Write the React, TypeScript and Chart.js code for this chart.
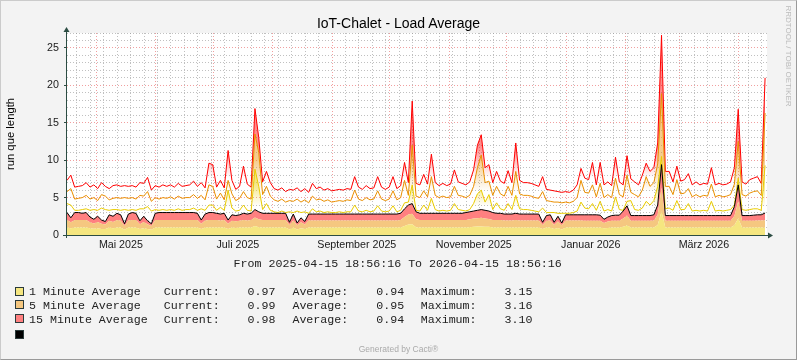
import React, { useEffect, useRef } from "react";
import { Chart, registerables } from "chart.js";

Chart.register(...registerables);

// ---------- time axis (days since range start) ----------
const RANGE_START = "2025-04-15T18:56:16";
const RANGE_TEXT = "From 2025-04-15 18:56:16 To 2026-04-15 18:56:16";
const TOTAL_DAYS = 365;
const STEP_DAYS = 2;

const gridMonthStarts = [
  "2025-05-01", "2025-06-01", "2025-07-01", "2025-08-01", "2025-09-01", "2025-10-01",
  "2025-11-01", "2025-12-01", "2026-01-01", "2026-02-01", "2026-03-01", "2026-04-01",
];
const labelMonthStarts = ["2025-05-01", "2025-07-01", "2025-09-01", "2025-11-01", "2026-01-01", "2026-03-01"];
const xTickLabels = ["Mai 2025", "Juli 2025", "September 2025", "November 2025", "Januar 2026", "März 2026"];
const firstWeekStart = "2025-04-21";

const yTickLabels = [0, 5, 10, 15, 20, 25];
const Y_MAX = 27;

// ---------- series (one value every 2 days) ----------
// 1 minute average (area)
const avg1 = [
  1.0, 0.9, 1.0, 1.0, 1.0, 1.0, 0.9, 0.85, 0.9, 0.8,
  0.8, 1.0, 0.9, 1.0, 1.0, 0.7, 1.0, 1.0, 1.0, 0.8,
  0.9, 0.8, 0.7, 1.0, 1.0, 1.0, 1.0, 1.0, 1.0, 1.0,
  1.0, 1.0, 1.0, 1.0, 1.0, 0.8, 1.0, 1.0, 1.0, 1.0,
  1.0, 1.0, 0.8, 1.0, 0.95, 1.0, 1.0, 1.0, 1.0, 1.2,
  1.05, 1.0, 1.0, 1.0, 1.0, 1.0, 1.0, 1.0, 0.75, 1.0,
  0.75, 0.9, 0.8, 1.0, 1.0, 1.0, 1.0, 1.0, 1.0, 1.0,
  1.0, 1.0, 1.0, 1.0, 1.0, 1.0, 1.0, 1.0, 1.0, 1.0,
  1.0, 1.0, 1.0, 1.0, 1.0, 1.0, 1.0, 1.0, 1.2, 1.4,
  1.45, 1.05, 1.0, 1.0, 1.0, 1.0, 1.0, 1.0, 1.0, 1.0,
  1.0, 1.0, 1.0, 1.0, 1.0, 1.05, 1.1, 1.15, 1.15, 1.1,
  1.1, 1.0, 1.0, 1.0, 1.0, 1.0, 1.0, 1.0, 1.0, 1.0,
  1.0, 1.0, 1.0, 1.0, 0.8, 1.0, 1.0, 0.8, 0.95, 0.75,
  1.0, 1.0, 1.0, 1.0, 1.0, 1.0, 1.0, 1.0, 1.0, 1.0,
  0.9, 0.95, 1.0, 1.0, 1.0, 1.1, 1.3, 1.0, 1.0, 1.0,
  1.0, 1.0, 1.0, 1.0, 1.35, 3.15, 1.0, 1.0, 1.0, 1.0,
  1.0, 1.0, 1.0, 1.0, 1.0, 1.0, 1.0, 1.0, 1.0, 1.0,
  1.0, 1.0, 1.0, 1.0, 1.3, 2.25, 1.0, 1.0, 1.0, 1.0,
  1.0, 1.0, 0.97,
];
// 5 minute average (area, stacked)
const avg5 = [
  1.0, 0.8, 1.0, 1.0, 1.0, 1.0, 0.8, 0.7, 0.85, 0.7,
  0.6, 0.9, 0.85, 1.0, 0.9, 0.5, 0.95, 1.0, 1.0, 0.65,
  0.85, 0.65, 0.5, 1.0, 1.0, 1.0, 1.0, 1.0, 1.0, 1.0,
  1.0, 1.0, 1.0, 1.0, 1.0, 0.7, 0.95, 1.0, 1.0, 1.0,
  0.95, 1.0, 0.7, 0.9, 0.9, 0.9, 1.0, 0.95, 1.0, 1.15,
  1.05, 1.0, 1.0, 1.0, 1.0, 1.0, 1.0, 1.0, 0.6, 0.95,
  0.55, 0.8, 0.6, 0.95, 0.95, 0.95, 0.95, 0.95, 0.95, 0.95,
  0.95, 0.95, 0.95, 0.95, 0.95, 0.95, 0.95, 0.95, 0.95, 0.95,
  0.95, 0.95, 0.95, 0.95, 0.95, 0.95, 0.95, 1.0, 1.2, 1.35,
  1.4, 1.05, 1.0, 1.0, 1.0, 1.0, 1.0, 1.0, 1.0, 1.0,
  1.0, 1.0, 1.0, 1.0, 1.0, 1.05, 1.1, 1.1, 1.15, 1.1,
  1.05, 1.0, 1.0, 1.0, 0.95, 0.95, 0.95, 1.0, 0.95, 0.95,
  0.95, 0.95, 0.95, 0.95, 0.55, 0.9, 0.95, 0.55, 0.85, 0.55,
  0.95, 0.95, 0.95, 0.95, 0.95, 0.9, 0.9, 0.9, 0.9, 0.9,
  0.7, 0.85, 0.9, 0.9, 0.9, 1.1, 1.3, 0.9, 0.9, 0.9,
  0.9, 0.9, 0.9, 0.95, 1.35, 3.16, 0.9, 0.9, 0.9, 0.9,
  0.9, 0.9, 0.9, 0.9, 0.9, 0.9, 0.9, 0.9, 0.9, 0.9,
  0.9, 0.9, 0.9, 0.9, 1.25, 2.25, 0.9, 0.9, 0.9, 0.9,
  0.95, 0.95, 0.99,
];
// 15 minute average (area, stacked)
const avg15 = [
  1.0, 0.6, 1.0, 1.0, 0.9, 1.0, 0.7, 0.55, 0.75, 0.5,
  0.4, 0.8, 0.75, 0.9, 0.8, 0.3, 0.85, 1.0, 0.9, 0.45,
  0.75, 0.45, 0.3, 0.9, 1.0, 1.0, 1.0, 1.0, 1.0, 1.0,
  1.0, 1.0, 1.0, 1.0, 0.9, 0.5, 0.85, 1.0, 1.0, 0.9,
  0.85, 0.9, 0.5, 0.8, 0.75, 0.8, 0.9, 0.85, 0.9, 1.05,
  1.0, 0.9, 0.9, 0.9, 0.9, 0.9, 0.9, 0.9, 0.35, 0.85,
  0.3, 0.6, 0.4, 0.85, 0.85, 0.85, 0.85, 0.85, 0.85, 0.85,
  0.85, 0.85, 0.85, 0.85, 0.85, 0.85, 0.85, 0.85, 0.85, 0.85,
  0.85, 0.85, 0.85, 0.85, 0.85, 0.85, 0.85, 0.9, 1.1, 1.25,
  1.35, 1.0, 0.9, 0.9, 0.9, 0.9, 0.9, 0.9, 0.9, 0.9,
  0.9, 0.9, 0.9, 0.9, 1.0, 1.0, 1.0, 1.05, 1.1, 1.1,
  1.05, 1.0, 0.9, 0.9, 0.85, 0.85, 0.85, 0.9, 0.85, 0.85,
  0.85, 0.85, 0.85, 0.85, 0.35, 0.7, 0.75, 0.35, 0.7, 0.3,
  0.75, 0.75, 0.75, 0.75, 0.75, 0.8, 0.8, 0.8, 0.8, 0.75,
  0.5, 0.6, 0.7, 0.75, 0.75, 1.0, 1.3, 0.7, 0.7, 0.7,
  0.7, 0.7, 0.7, 0.75, 1.3, 3.10, 0.7, 0.7, 0.7, 0.7,
  0.7, 0.7, 0.7, 0.7, 0.7, 0.7, 0.7, 0.7, 0.7, 0.7,
  0.7, 0.7, 0.7, 0.7, 1.25, 2.2, 0.7, 0.7, 0.7, 0.75,
  0.75, 0.75, 0.98,
];
// peak lines (as drawn, stacked maxima)
const max1Line = [
  4.2, 4.0, 3.3, 3.3, 3.4, 3.5, 3.3, 3.4, 3.3, 3.6,
  3.4, 3.3, 3.4, 3.4, 3.3, 3.4, 3.3, 3.4, 3.3, 3.5,
  3.5, 3.8, 3.2, 3.4, 3.3, 3.4, 3.3, 3.4, 3.3, 3.5,
  3.3, 3.4, 3.4, 3.6, 3.3, 3.5, 3.3, 4.0, 4.0, 3.3,
  3.7, 3.3, 6.0, 3.6, 3.2, 3.3, 4.0, 3.3, 3.2, 8.8,
  6.5, 3.4, 4.2, 3.3, 3.1, 3.0, 3.2, 3.0, 3.1, 3.0,
  3.2, 3.0, 3.1, 2.9, 3.5, 3.1, 3.2, 3.0, 3.1, 3.0,
  3.0, 3.1, 3.0, 3.1, 3.1, 4.0, 3.2, 3.1, 3.3, 3.1,
  3.2, 3.9, 3.2, 3.1, 3.2, 3.9, 3.1, 3.3, 4.3, 4.4,
  6.7, 3.3, 3.2, 4.0, 3.3, 4.9, 3.4, 3.2, 3.3, 3.2,
  3.3, 4.2, 3.4, 3.3, 3.2, 3.4, 4.2, 5.5, 6.0, 4.4,
  5.4, 3.4, 4.3, 3.5, 3.3, 4.2, 3.4, 5.3, 3.5, 3.4,
  3.4, 3.3, 3.2, 3.1, 3.6, 3.0, 3.0, 3.0, 2.9, 2.9,
  2.9, 2.9, 3.0, 3.2, 4.4, 3.6, 3.5, 4.2, 3.3, 4.5,
  3.2, 3.4, 3.2, 5.1, 3.4, 3.3, 4.5, 4.6, 3.4, 3.3,
  3.6, 4.5, 4.0, 4.6, 6.5, 10.5, 3.5, 3.6, 3.3, 4.6,
  3.4, 3.4, 4.2, 3.2, 3.3, 3.2, 3.3, 3.2, 4.5, 3.2,
  3.3, 3.2, 3.3, 3.4, 4.0, 7.6, 3.4, 3.3, 3.4, 3.5,
  3.5, 3.3, 9.3,
];
const max5Line = [
  5.8, 6.2, 4.8, 4.9, 5.0, 5.3, 4.8, 5.0, 4.6, 5.4,
  5.2, 4.7, 4.9, 5.0, 4.9, 5.0, 4.9, 5.0, 4.8, 5.3,
  5.2, 5.8, 4.5, 5.0, 4.8, 5.0, 4.9, 5.1, 4.8, 5.2,
  4.9, 5.0, 5.0, 5.4, 4.9, 5.3, 4.7, 6.7, 6.5, 4.8,
  5.6, 4.7, 7.3, 5.5, 4.6, 4.9, 5.8, 5.0, 4.8, 13.5,
  11.0, 5.4, 6.5, 5.2, 4.7, 4.5, 4.8, 4.4, 4.6, 4.5,
  4.8, 4.4, 4.7, 4.3, 5.2, 4.7, 4.8, 4.5, 4.7, 4.4,
  4.5, 4.6, 4.5, 4.7, 4.6, 6.0, 4.8, 4.6, 5.0, 4.7,
  4.8, 5.9, 4.8, 4.6, 4.8, 5.9, 4.7, 5.0, 7.3, 5.3,
  12.0, 5.2, 5.0, 5.9, 5.1, 7.8, 5.3, 5.0, 5.2, 5.0,
  5.1, 6.5, 5.3, 5.2, 5.0, 5.3, 6.5, 9.0, 10.7, 7.0,
  7.2, 5.3, 6.5, 5.5, 5.2, 6.5, 5.3, 8.5, 5.5, 5.3,
  5.3, 5.2, 5.0, 4.9, 5.8, 4.6, 4.5, 4.4, 4.4, 4.3,
  4.4, 4.3, 4.5, 5.0, 7.3, 5.7, 5.6, 6.7, 5.1, 6.9,
  5.0, 5.4, 5.0, 7.6, 5.4, 5.1, 8.0, 5.7, 5.4, 5.1,
  6.0, 7.8, 6.5, 7.0, 9.5, 18.9, 6.5, 6.5, 5.4, 7.4,
  5.5, 5.6, 6.2, 5.1, 5.4, 5.1, 5.3, 5.2, 6.8, 5.1,
  5.3, 5.1, 5.2, 5.4, 6.8, 12.5, 5.4, 5.2, 5.6, 5.8,
  5.9, 5.3, 16.3,
];
const max15Line = [
  7.3, 8.0, 6.4, 6.5, 6.6, 7.0, 6.4, 6.7, 6.2, 7.0,
  6.5, 6.2, 6.6, 6.7, 6.5, 6.6, 6.5, 6.6, 6.4, 7.0,
  6.9, 7.7, 6.0, 6.6, 6.4, 6.7, 6.5, 6.7, 6.4, 6.9,
  6.5, 6.6, 6.7, 7.2, 6.5, 7.0, 6.3, 9.6, 9.4, 6.4,
  7.3, 6.3, 11.3, 7.3, 6.1, 6.5, 9.2, 6.8, 6.4, 16.9,
  13.0, 7.1, 8.5, 7.0, 6.2, 6.0, 6.3, 5.8, 6.1, 6.0,
  6.3, 5.8, 6.2, 5.7, 6.9, 6.2, 6.4, 6.0, 6.2, 5.9,
  6.0, 6.1, 6.0, 6.2, 6.1, 7.8, 6.4, 6.1, 6.6, 6.2,
  6.3, 7.8, 6.4, 6.1, 6.4, 7.8, 6.2, 6.6, 9.7, 7.0,
  17.9, 6.9, 6.7, 8.1, 6.8, 10.8, 7.0, 6.6, 6.9, 6.6,
  6.8, 8.7, 7.1, 6.9, 6.7, 7.1, 8.7, 12.0, 13.4, 9.0,
  9.4, 7.0, 8.5, 7.2, 6.9, 8.6, 7.0, 12.3, 7.3, 7.0,
  7.0, 6.9, 6.7, 6.5, 7.8, 6.1, 6.0, 5.9, 5.8, 5.7,
  5.8, 5.7, 6.0, 6.7, 8.9, 7.6, 7.4, 9.7, 6.7, 9.7,
  6.7, 7.1, 6.6, 10.4, 7.1, 6.7, 10.6, 7.5, 7.1, 6.7,
  8.0, 9.6, 8.5, 9.0, 12.3, 26.7, 8.5, 8.5, 7.1, 9.2,
  7.2, 7.4, 8.2, 6.7, 7.1, 6.7, 6.9, 6.8, 9.0, 6.7,
  6.9, 6.7, 6.8, 7.1, 9.0, 16.8, 7.1, 6.8, 7.4, 7.6,
  7.8, 6.9, 21.0,
];

// legend texts
const legendNames = ["1 Minute Average", "5 Minute Average", "15 Minute Average"];
const legendCurrent = ["0.97", "0.99", "0.98"];
const legendAverage = ["0.94", "0.95", "0.94"];
const legendMaximum = ["3.15", "3.16", "3.10"];

// ---------- styles ----------
const AREA1 = "rgb(245,230,128)";
const AREA5 = "rgb(245,199,128)";
const AREA15 = "rgb(255,128,128)";
const LINE1 = "#EACC00";
const LINE5 = "#EA8F00";
const LINE15 = "#FF0000";
const AXIS = "#2C4D43";
const GRID_MINOR = "rgba(150,150,150,0.6)";
const GRID_MAJOR = "rgba(230,80,80,0.55)";
const SANS = "'Liberation Sans', Arial, sans-serif";
const MONO = "'Liberation Mono', 'Courier New', monospace";

const dayOf = (d: string) =>
  (Date.parse(d + "T00:00:00") - Date.parse(RANGE_START)) / 86400000;

function spikeFill(rgb: string, lo: number, hi: number, alpha: number) {
  return (ctx: any) => {
    const chart = ctx.chart;
    const area = chart.chartArea;
    if (!area) return "rgba(0,0,0,0)";
    const y = chart.scales.y;
    const g = chart.ctx.createLinearGradient(0, y.getPixelForValue(lo), 0, y.getPixelForValue(hi));
    g.addColorStop(0, `rgba(${rgb},0)`);
    g.addColorStop(1, `rgba(${rgb},${alpha})`);
    return g;
  };
}

const frame = {
  id: "rrdFrame",
  beforeDraw(chart: any) {
    const { ctx, chartArea: a } = chart;
    ctx.save();
    ctx.fillStyle = "#FFFFFF";
    ctx.fillRect(a.left, a.top, a.right - a.left, a.bottom - a.top);
    ctx.restore();
  },
  afterDatasetsDraw(chart: any) {
    const { ctx, chartArea: a } = chart;
    ctx.save();
    ctx.strokeStyle = AXIS;
    ctx.fillStyle = AXIS;
    ctx.lineWidth = 1;
    ctx.beginPath();
    ctx.moveTo(a.left - 0.5, a.bottom + 3);
    ctx.lineTo(a.left - 0.5, a.top - 2);
    ctx.moveTo(a.left - 4, a.bottom + 0.5);
    ctx.lineTo(a.right + 2, a.bottom + 0.5);
    ctx.stroke();
    ctx.beginPath();
    ctx.moveTo(a.left - 0.5, a.top - 6);
    ctx.lineTo(a.left - 3.5, a.top - 1);
    ctx.lineTo(a.left + 2.5, a.top - 1);
    ctx.closePath();
    ctx.fill();
    ctx.beginPath();
    ctx.moveTo(a.right + 6, a.bottom + 0.5);
    ctx.lineTo(a.right + 1, a.bottom - 2.5);
    ctx.lineTo(a.right + 1, a.bottom + 3.5);
    ctx.closePath();
    ctx.fill();
    ctx.restore();
  },
};

function Txt(props: {
  x?: number; w?: number; base: number; size: number; mono?: boolean; color?: string;
  align?: "left" | "center"; children: React.ReactNode;
}) {
  const { x = 0, w, base, size, mono, color = "#000", align = "left" } = props;
  const ratio = mono ? 0.7665 : 0.8465;
  return (
    <div
      style={{
        position: "absolute", left: x, top: base - ratio * size, width: w,
        fontFamily: mono ? MONO : SANS, fontSize: size, lineHeight: `${size}px`,
        color, whiteSpace: "pre", textAlign: align,
      }}
    >
      {props.children}
    </div>
  );
}

export default function App() {
  const ref = useRef<HTMLCanvasElement | null>(null);

  useEffect(() => {
    const canvas = ref.current;
    if (!canvas) return;
    const pts = (arr: number[]) => arr.map((v, i) => ({ x: i * STEP_DAYS, y: v }));
    const band5 = avg1.map((v, i) => v + avg5[i]);
    const total = avg1.map((v, i) => v + avg5[i] + avg15[i]);

    const majorDays = gridMonthStarts.map(dayOf);
    const minorDays: number[] = [];
    for (let d = dayOf(firstWeekStart); d < TOTAL_DAYS; d += 7) {
      if (!majorDays.some((m) => Math.abs(m - d) < 1)) minorDays.push(d);
    }
    const labelDays = labelMonthStarts.map((m) => dayOf(m) + 12.9);
    const xTicks = [
      ...minorDays.map((v) => ({ value: v, kind: 0 })),
      ...majorDays.map((v) => ({ value: v, kind: 1 })),
      ...labelDays.map((v, i) => ({ value: v, kind: 2, label: xTickLabels[i] })),
    ].sort((a, b) => a.value - b.value);

    const yTicks: number[] = [];
    for (let v = 0; v <= Y_MAX; v++) yTicks.push(v);

    const lineBase = { pointRadius: 0, pointHoverRadius: 0, tension: 0 };

    const chart = new Chart(canvas, {
      type: "line",
      data: {
        datasets: [
          { ...lineBase, label: legendNames[0], data: pts(avg1), fill: "origin", backgroundColor: AREA1, borderWidth: 0, order: 5 },
          { ...lineBase, label: legendNames[1], data: pts(band5), fill: "-1", backgroundColor: AREA5, borderWidth: 0, order: 5 },
          { ...lineBase, label: legendNames[2], data: pts(total), fill: "-1", backgroundColor: AREA15, borderWidth: 0, order: 5 },
          { ...lineBase, label: "total", data: pts(total), fill: false, borderColor: "#000", borderWidth: 1, order: 1 },
          { ...lineBase, label: "1 min peak", data: pts(max1Line), fill: "-1", borderColor: LINE1, borderWidth: 1, backgroundColor: spikeFill("234,204,0", 3.8, 7, 0.5), order: 2 },
          { ...lineBase, label: "5 min peak", data: pts(max5Line), fill: "-1", borderColor: LINE5, borderWidth: 1, backgroundColor: spikeFill("234,143,0", 5.8, 10, 0.45), order: 2 },
          { ...lineBase, label: "15 min peak", data: pts(max15Line), fill: "-1", borderColor: LINE15, borderWidth: 1, backgroundColor: spikeFill("255,0,0", 7.6, 12, 0.45), order: 2 },
        ] as any,
      },
      options: {
        responsive: false,
        animation: false,
        devicePixelRatio: 1,
        events: [],
        layout: { padding: { left: 0, top: 33, right: 30, bottom: 0 } },
        plugins: { legend: { display: false }, tooltip: { enabled: false }, title: { display: false } },
        scales: {
          x: {
            type: "linear",
            min: 0,
            max: TOTAL_DAYS,
            afterFit: (s: any) => { s.height = 125; },
            afterBuildTicks: (s: any) => { s.ticks = xTicks.map((t) => ({ value: t.value })); },
            ticks: {
              autoSkip: false,
              maxRotation: 0,
              padding: 4,
              color: "#1a1a1a",
              font: { family: SANS, size: 10.7 },
              callback: (v: any) => {
                const t = xTicks.find((k) => Math.abs(k.value - v) < 1e-6);
                return t && t.kind === 2 ? (t as any).label : "";
              },
            },
            grid: {
              drawTicks: false,
              lineWidth: 1,
              color: (ctx: any) => {
                const t = xTicks[ctx.index];
                if (!t) return "rgba(0,0,0,0)";
                return t.kind === 1 ? GRID_MAJOR : t.kind === 0 ? GRID_MINOR : "rgba(0,0,0,0)";
              },
              borderDash: [1, 2],
            } as any,
            border: { display: false, dash: [1, 2] },
          },
          y: {
            type: "linear",
            min: 0,
            max: Y_MAX,
            afterFit: (s: any) => { s.width = 67; },
            afterBuildTicks: (s: any) => { s.ticks = yTicks.map((v) => ({ value: v })); },
            ticks: {
              autoSkip: false,
              padding: 5,
              color: "#1a1a1a",
              font: { family: SANS, size: 10.7 },
              callback: (v: any) => (yTickLabels.includes(v) ? String(v) : ""),
            },
            grid: {
              lineWidth: 1,
              drawTicks: true,
              tickLength: 3,
              tickWidth: 1,
              tickColor: (ctx: any) => (ctx.tick && ctx.tick.value % 5 === 0 ? AXIS : "rgba(0,0,0,0)"),
              color: (ctx: any) => (ctx.tick && ctx.tick.value % 5 === 0 ? GRID_MAJOR : GRID_MINOR),
              borderDash: [1, 2],
            } as any,
            border: { display: false, dash: [1, 2] },
          },
        },
      } as any,
      plugins: [frame],
    });
    return () => chart.destroy();
  }, []);

  const rowBase = [294.7, 308.5, 322.8];
  const rowSwatch = [286.5, 300.2, 314.4];
  const swatchColors = [AREA1, AREA5, AREA15];

  return (
    <div style={{ position: "fixed", left: 0, top: 0, width: 797, height: 360, background: "#F3F3F3", overflow: "hidden" }}>
      <canvas ref={ref} width={797} height={360} style={{ position: "absolute", left: 0, top: 0, width: 797, height: 360 }} />
      <div style={{ position: "absolute", inset: 0, boxSizing: "border-box", borderTop: "1px solid #CBCBCB", borderLeft: "1px solid #CBCBCB", borderRight: "1px solid #999999", borderBottom: "1px solid #999999", pointerEvents: "none" }} />
      <Txt x={0} w={797} base={28.3} size={14} align="center">IoT-Chalet - Load Average</Txt>
      <div style={{ position: "absolute", left: 10, top: 134, transform: "translate(-50%,-50%) rotate(-90deg)", fontFamily: SANS, fontSize: 11.3, lineHeight: "12px", whiteSpace: "pre", color: "#000" }}>run que length</div>
      <div style={{ position: "absolute", left: 787.5, top: 56, transform: "translate(-50%,-50%) rotate(90deg)", fontFamily: SANS, fontSize: 8, lineHeight: "9px", whiteSpace: "pre", color: "#BBBBBB" }}>RRDTOOL / TOBI OETIKER</div>
      <Txt x={233.5} base={266.5} size={11.65} mono color="#222">{RANGE_TEXT}</Txt>
      {legendNames.map((name, i) => (
        <React.Fragment key={name}>
          <div style={{ position: "absolute", left: 15, top: rowSwatch[i], width: 9, height: 9, boxSizing: "border-box", border: "1px solid #2a3a3a", background: swatchColors[i] }} />
          <Txt x={29} base={rowBase[i]} size={11.65} mono color="#222">{name}</Txt>
          <Txt x={163.8} base={rowBase[i]} size={11.65} mono color="#222">{"Current:    " + legendCurrent[i]}</Txt>
          <Txt x={292.4} base={rowBase[i]} size={11.65} mono color="#222">{"Average:    " + legendAverage[i]}</Txt>
          <Txt x={420.7} base={rowBase[i]} size={11.65} mono color="#222">{"Maximum:    " + legendMaximum[i]}</Txt>
        </React.Fragment>
      ))}
      <div style={{ position: "absolute", left: 15, top: 329.5, width: 9, height: 9, boxSizing: "border-box", border: "1px solid #2a3a3a", background: "#000" }} />
      <Txt x={0} w={797} base={352} size={8.5} align="center" color="#AAAAAA">Generated by Cacti®</Txt>
    </div>
  );
}
